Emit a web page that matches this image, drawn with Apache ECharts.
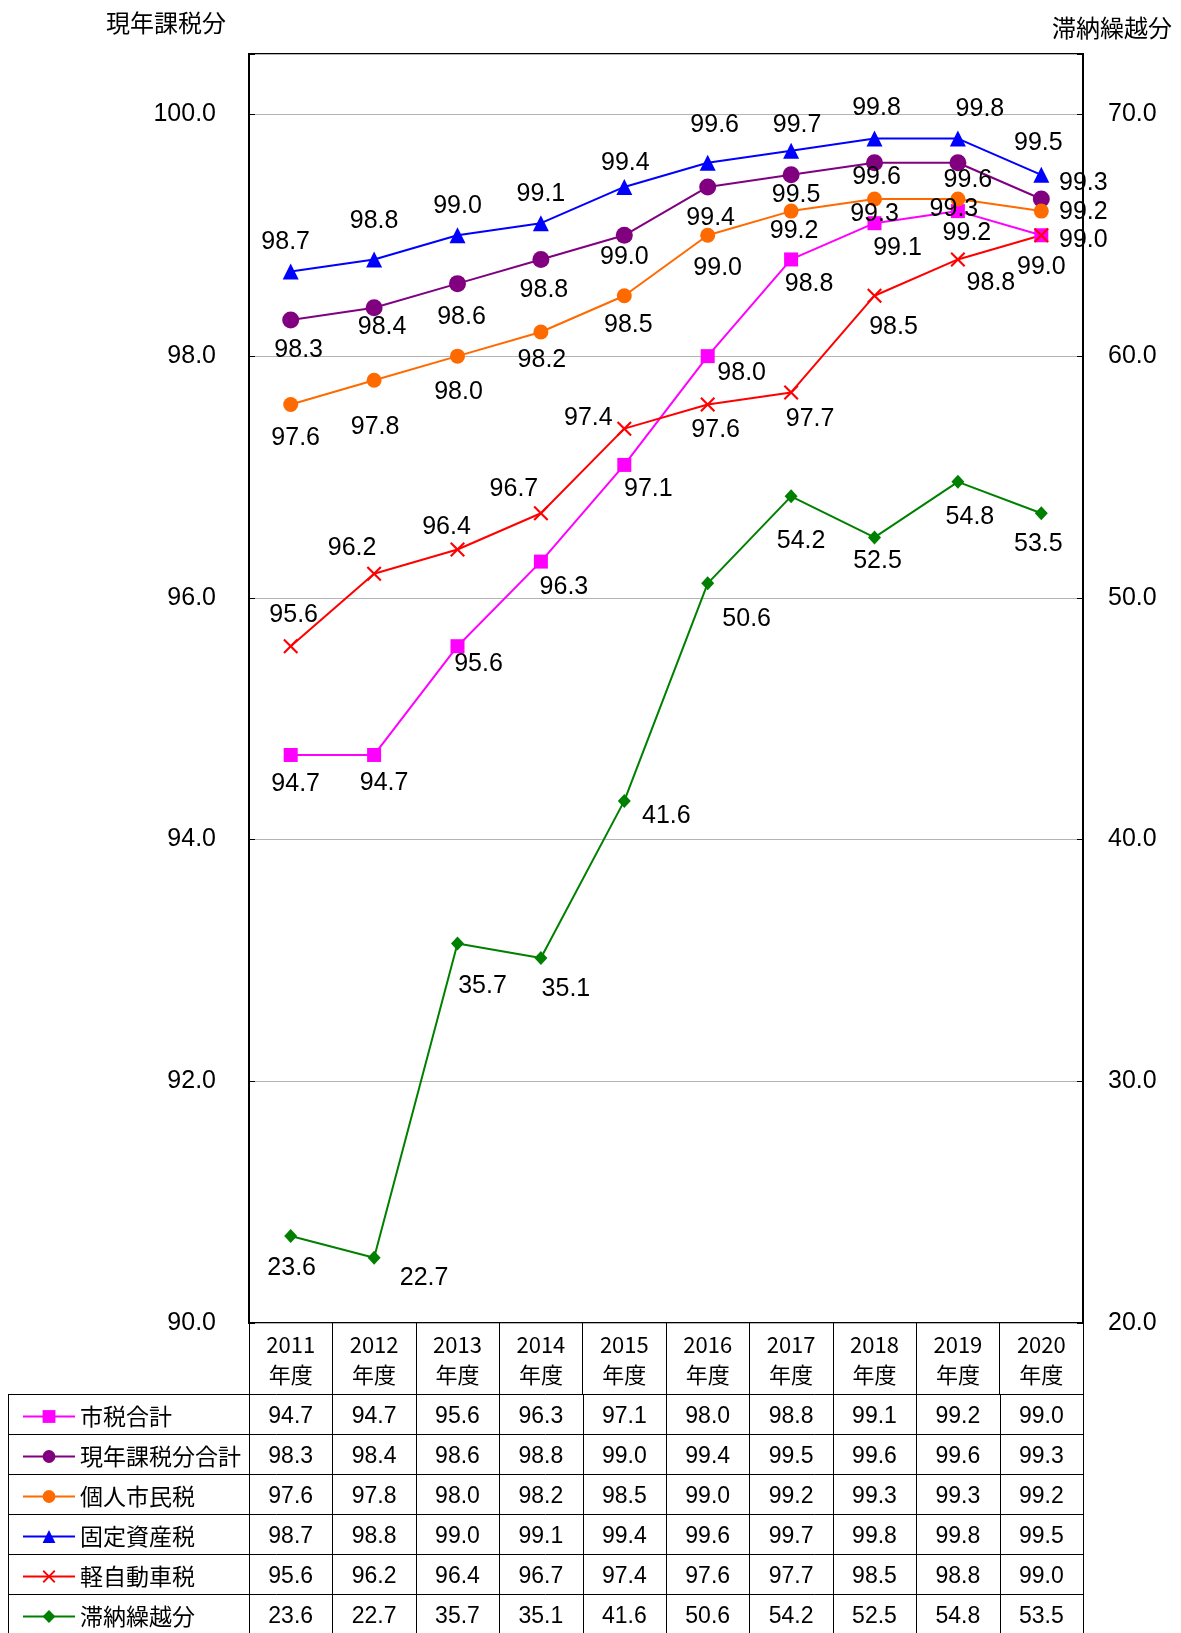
<!DOCTYPE html>
<html><head><meta charset="utf-8">
<script src="https://cdn.jsdelivr.net/npm/echarts@6/dist/echarts.min.js"></script>
<style>html,body{margin:0;padding:0;background:#fff}#c{width:1181px;height:1633px}</style>
</head><body><div id="c"></div>
<script>
// ---- data ----
const years = ['2011','2012','2013','2014','2015','2016','2017','2018','2019','2020'];
const yearSuffix = '年度';
const seriesNames = ['市税合計','現年課税分合計','個人市民税','固定資産税','軽自動車税','滞納繰越分'];
const shizeiGoukei = [94.7,94.7,95.6,96.3,97.1,98.0,98.8,99.1,99.2,99.0];
const genenGoukei = [98.3,98.4,98.6,98.8,99.0,99.4,99.5,99.6,99.6,99.3];
const kojinShiminzei = [97.6,97.8,98.0,98.2,98.5,99.0,99.2,99.3,99.3,99.2];
const koteiShisanzei = [98.7,98.8,99.0,99.1,99.4,99.6,99.7,99.8,99.8,99.5];
const keiJidoushazei = [95.6,96.2,96.4,96.7,97.4,97.6,97.7,98.5,98.8,99.0];
const tainouKurikoshi = [23.6,22.7,35.7,35.1,41.6,50.6,54.2,52.5,54.8,53.5];
const leftAxisName = '現年課税分';
const rightAxisName = '滞納繰越分';

// ---- label placement (style only) ----
const offsMagenta = [[5,29],[10,28],[21,18],[23,26],[24,24],[34,17],[18,25],[23,25],[9,22],[0,32]];
const offsPurple  = [[8,30],[8,19],[4,33],[3,31],[0,22],[3,31],[5,20],[2,14],[10,17],[42,-16]];
const offsOrange  = [[5,34],[1,47],[1,36],[1,28],[4,29],[10,33],[3,20],[0,15],[-4,10],[42,1]];
const offsBlue    = [[-5,-29],[0,-38],[0,-29],[0,-29],[1,-24],[7,-38],[6,-26],[2,-30],[22,-29],[-3,-32]];
const offsRed     = [[3,-31],[-22,-26],[-11,-22],[-27,-24],[-36,-11],[8,26],[19,27],[19,31],[33,24],[42,5]];
const offsGreen   = [[1,32],[50,20],[25,43],[25,31],[42,15],[39,36],[10,45],[3,24],[12,35],[-3,31]];

const FONT = '"Liberation Sans","Noto Sans CJK JP",sans-serif';
const CJK = '"Noto Sans CJK JP","Liberation Sans",sans-serif';
const crossPath = 'path://M0,1L1,0L5,4L9,0L10,1L6,5L10,9L9,10L5,6L1,10L0,9L4,5Z';

const defs = [
  {name: seriesNames[0], data: shizeiGoukei, color:'#FF00FF', symbol:'rect', size:14, offs: offsMagenta, y:0},
  {name: seriesNames[1], data: genenGoukei, color:'#800080', symbol:'circle', size:17, offs: offsPurple, y:0},
  {name: seriesNames[2], data: kojinShiminzei, color:'#FF6A00', symbol:'circle', size:15, offs: offsOrange, y:0},
  {name: seriesNames[3], data: koteiShisanzei, color:'#0000FF', symbol:'triangle', size:16, offs: offsBlue, y:0},
  {name: seriesNames[4], data: keiJidoushazei, color:'#FF0000', symbol:crossPath, size:15, offs: offsRed, y:0},
  {name: seriesNames[5], data: tainouKurikoshi, color:'#008000', symbol:'diamond', size:[13,14], offs: offsGreen, y:1}
];

const GL = 249, GR = 1083, GT = 54, GB = 1323;
const ROW0 = 1394, ROWH = 40;

const chart = echarts.init(document.getElementById('c'), null, {renderer:'canvas'});

const series = defs.map(d => ({
  name: d.name, type:'line', yAxisIndex: d.y,
  symbol: d.symbol, symbolSize: d.size,
  lineStyle:{color:d.color, width:2},
  itemStyle:{color:d.color},
  label:{show:true, position:'inside', color:'#000', fontSize:25, fontFamily:FONT,
         formatter: p => p.value.toFixed(1)},
  emphasis:{disabled:true},
  animation:false,
  data: d.data.map((v,i) => ({value:v, label:{offset:d.offs[i]}}))
}));

const legends = defs.map((d,i) => ({
  data:[d.name], left:17, top: ROW0 + i*ROWH + 6,
  itemWidth:52, itemHeight:16, itemGap:0, selectedMode:false,
  textStyle:{fontSize:23, fontFamily:CJK, color:'#000', padding:[0,0,0,0]}
}));

chart.setOption({
  animation:false,
  backgroundColor:'#fff',
  grid:{left:GL, top:GT, width:GR-GL, height:GB-GT, show:true, borderColor:'#000', borderWidth:2, containLabel:false},
  legend: legends,
  xAxis:{type:'category', data:years, boundaryGap:true,
    axisLine:{show:false},
    axisTick:{show:true, interval:0, length:71, lineStyle:{color:'#000', width:1}},
    axisLabel:{interval:0, margin:7, lineHeight:30, fontSize:22, fontFamily:CJK, color:'#000',
      formatter: v => v + '\n' + yearSuffix},
    splitLine:{show:false}},
  yAxis:[
    {type:'value', position:'left', min:90, max:100.5, interval:2,
     axisLine:{show:false},
     axisTick:{show:true, inside:true, length:6, lineStyle:{color:'#000'}},
     axisLabel:{fontSize:25, fontFamily:FONT, color:'#000', margin:33,
       formatter: v => (Math.abs(v/2 - Math.round(v/2))<1e-6) ? v.toFixed(1) : ''},
     splitLine:{show:true, lineStyle:{color:'#b4b4b4', width:1}}},
    {type:'value', position:'right', min:20, max:72.5, interval:10,
     axisLine:{show:false},
     axisTick:{show:true, inside:true, length:6, lineStyle:{color:'#000'}},
     axisLabel:{fontSize:25, fontFamily:FONT, color:'#000', margin:25,
       formatter: v => (Math.abs(v/10 - Math.round(v/10))<1e-6) ? v.toFixed(1) : ''},
     splitLine:{show:false}}
  ],
  series: series
});

// ---- table built from the data arrays, positioned via the category axis ----
const els = [];
const xs = years.map(y => chart.convertToPixel({xAxisIndex:0}, y));
const colW = (GR - GL) / years.length;
const nRows = defs.length;
const bottomY = ROW0 + nRows*ROWH;
for (let r = 0; r < nRows; r++) {
  const y = ROW0 + r*ROWH;
  els.push({type:'line', shape:{x1:8, y1:y+0.5, x2:GR, y2:y+0.5}, style:{stroke:'#000', lineWidth:1}, silent:true});
}
const vx = [8, GL].concat(xs.map(x => x + colW/2));
vx.forEach(x => els.push({type:'line', shape:{x1:Math.round(x)+0.5, y1:ROW0, x2:Math.round(x)+0.5, y2:bottomY}, style:{stroke:'#000', lineWidth:1}, silent:true}));
defs.forEach((d, r) => {
  d.data.forEach((v, i) => {
    els.push({type:'text', x:xs[i], y:ROW0 + r*ROWH + ROWH/2 + 3, silent:true,
      style:{text:v.toFixed(1), font:'23px ' + FONT, fill:'#000', align:'center', verticalAlign:'middle'}});
  });
});
els.push({type:'text', x:166, y:23, silent:true, style:{text:leftAxisName, font:'24px ' + CJK, fill:'#000', align:'center', verticalAlign:'middle'}});
els.push({type:'text', x:1112, y:28, silent:true, style:{text:rightAxisName, font:'24px ' + CJK, fill:'#000', align:'center', verticalAlign:'middle'}});

chart.setOption({graphic:{elements:els}});
</script>
</body></html>
